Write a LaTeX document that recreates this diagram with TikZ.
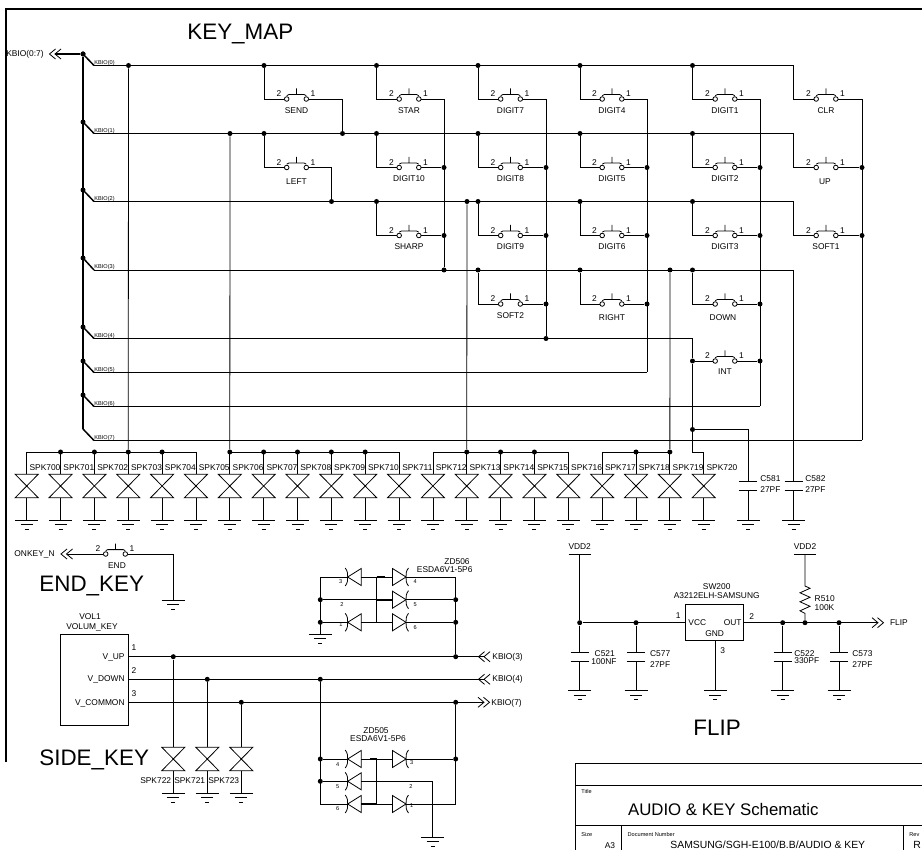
\documentclass[tikz,border=0pt]{standalone}
\usepackage{fontspec}
\setmainfont{Liberation Sans}
\usetikzlibrary{positioning}

\begin{document}
\begin{tikzpicture}
    [
        x=1pt, y=-1pt, line width=0.8pt,
        dot/.style = {circle, fill=black, inner sep=0pt, minimum size=5pt},
        lbl/.style = {inner sep=0pt, font=\fontsize{8.4}{9}\selectfont},
        lblw/.style = {lbl, anchor=west},
        lble/.style = {lbl, anchor=east},
        tiny/.style = {inner sep=0pt, font=\fontsize{5.6}{6}\selectfont},
        tinyw/.style = {tiny, anchor=west},
        big/.style = {inner sep=0pt, anchor=west, font=\fontsize{22.4}{24}\selectfont},
        bus/.style = {line width=2pt},
        pics/keyswitch/.style = {code={
            \draw[fill=white] (-9.8,0) circle (2.3) (9.8,0) circle (2.3);
            \draw (-9.8,-3.4) -- (-7.6,-4.4) -- (7.6,-4.4) -- (9.8,-3.4) (0,-4.4) -- (0,-10.5);
            \node[lbl] (-two) at (-17.5,-5) {2};
            \node[lbl] (-one) at (16.5,-5) {1};
            \coordinate (-l) at (-12.1,0);
            \coordinate (-r) at (12.1,0);
        }},
        pics/gnd/.style = {code={
            \draw (-11.5,0) -- (11.5,0) (-6,4.5) -- (6,4.5) (-2,9) -- (2,9);
        }},
        pics/bowtie/.style = {code={
            \draw (-11.5,-11.7) -- (11.5,-11.7) -- (-11.5,11.7) -- (11.5,11.7) -- cycle;
            \coordinate (-t) at (0,-11.7);
            \coordinate (-b) at (0,11.7);
        }},
        pics/capv/.style = {code={
            \draw (-9,-4.5) -- (9,-4.5) (-9,4.5) -- (9,4.5);
            \coordinate (-t) at (0,-4.5);
            \coordinate (-b) at (0,4.5);
        }},
        pics/zenl/.style = {code={
            \draw (0,0) -- (13.5,-8.5) -- (13.5,8.5) -- cycle;
            \draw (-2.5,-9) .. controls (0,-6) and (0,-3) .. (0,0) .. controls (0,3) and (0,6) .. (-2.5,9);
            \coordinate (-c) at (0,0);
            \coordinate (-a) at (13.5,0);
        }},
        pics/zenr/.style = {code={
            \draw (0,0) -- (-13.5,-8.5) -- (-13.5,8.5) -- cycle;
            \draw (2.5,-9) .. controls (0,-6) and (0,-3) .. (0,0) .. controls (0,3) and (0,6) .. (2.5,9);
            \coordinate (-c) at (0,0);
            \coordinate (-a) at (-13.5,0);
        }},
        pics/chevl/.style = {code={
            \draw (6,-5) -- (0,0) -- (6,5) (0.5,-5) -- (-5.5,0) -- (0.5,5);
            \coordinate (-o) at (0,0);
        }},
        pics/chevr/.style = {code={
            \draw (-6,-5) -- (0,0) -- (-6,5) (-0.5,-5) -- (5.5,0) -- (-0.5,5);
            \coordinate (-o) at (0,0);
        }},
    ]

    \useasboundingbox (0,0) rectangle (922,850);
    \clip (0,0) rectangle (922,850);

    \coordinate (frametl) at (5.5,9);
    \coordinate (framebl) at (5.5,762);
    \coordinate (frametr) at (922,9);
    \draw[bus] (framebl) -- (frametl) -- (frametr);

    \node[big] (keymap) at (187,34) {KEY\_MAP};
    \node[big] (endkey) at (39,586) {END\_KEY};
    \node[big] (sidekey) at (39,760) {SIDE\_KEY};
    \node[big] (fliptitle) at (693,728) {FLIP};

    \node[lble] (kbiotxt) at (44,54) {KBIO(0:7)};
    \pic (kbiochev) at (55,54) {chevl};
    \node[dot] (bustop) at (83,54) {};
    \coordinate (busend) at (83,429);
    \draw[bus] (kbiochev-o) -- (bustop) -- (busend);

    \foreach \i/\ybus/\yrow/\hasdot in {0/54/65.5/1, 1/122/133.5/1, 2/190/201.5/1, 3/258/270/1, 4/327/338.5/1, 5/361/372.5/1, 6/395/406.5/1, 7/429/440.5/0}
    {
        \coordinate (bt\i) at (83,\ybus);
        \coordinate (k\i) at (94,\yrow);
        \ifnum\hasdot=1 \node[dot] (bd\i) at (83,\ybus) {}; \fi
        \draw[line width=1.5pt] (bt\i) -- (k\i);
        \node[tinyw] (kl\i) at (94,\yrow-2.5) {KBIO(\i)};
    }

    \foreach \id/\x/\y/\lx/\ly/\txt in
    {
        send/296.5/99/296.5/111/SEND, left/296.5/167.5/296.5/182/LEFT,
        star/409/99/409/111/STAR, digitten/409/167.5/409/179/DIGIT10, sharp/409/235.5/409/247/SHARP,
        digitseven/510.5/99/510.5/111/DIGIT7, digiteight/510.5/167.5/510.5/179/DIGIT8, digitnine/510.5/235.5/510.5/247/DIGIT9, softtwo/510.5/304/510.5/316/SOFT2,
        digitfour/612/99/612/111/DIGIT4, digitfive/612/167.5/612/179/DIGIT5, digitsix/612/235.5/612/247/DIGIT6, right/612/304/612/318/RIGHT,
        digitone/725/99/725/111/DIGIT1, digittwo/725/167.5/725/179/DIGIT2, digitthree/725/235.5/725/247/DIGIT3, down/725/304/723/318/DOWN, int/725/361/725/372/INT,
        clr/826/99/826/111/CLR, up/826/167.5/825/182/UP, softone/826/235.5/826/247/SOFT1,
        endsw/115.5/554/117/566/END
    }
    {
        \pic (\id) at (\x,\y) {keyswitch};
        \node[lbl] (\id txt) at (\lx,\ly) {\txt};
    }

    \foreach \id/\x/\y in
    {
        aa/128.5/65.5, ab/264/65.5, ac/376.5/65.5, ad/478/65.5, ae/580/65.5, af/692.5/65.5,
        ba/230/133.5, bb/264/133.5, bs/342.5/133.5, bc/376.5/133.5, bd/478/133.5, be/580/133.5, bf/692.5/133.5,
        cs/331.5/201.5, cc/376.5/201.5, ca/467/201.5, cd/478/201.5, ce/580/201.5, cf/692.5/201.5,
        dh/444/270, dd/478/270, de/580/270, dg/670/270, df/692.5/270,
        hten/444/167.5, hsh/444/235.5,
        jeight/546/167.5, jnine/546/235.5, jsoft/546/304, jrow/546/338.5,
        lfive/647/167.5, lsix/647/235.5, lright/647/304,
        mtwo/760/167.5, mthree/760/235.5, mdown/760/304, mint/760/361,
        nup/862/167.5, nsoft/862/235.5,
        iint/692.5/361, icap/692.5/429.5
    }
    {
        \node[dot] (\id) at (\x,\y) {};
    }

    \coordinate (tzero) at (793.5,99);
    \coordinate (tone) at (793.5,167.5);
    \coordinate (ttwo) at (793.5,235.5);
    \coordinate (cfive) at (647,372.5);
    \coordinate (csix) at (760,406.5);
    \coordinate (cseven) at (862,440.5);
    \coordinate (cfour) at (692.5,338.5);
    \coordinate (cthree) at (793.5,270);

    \draw (k0) -| (tzero) -- (clr-l);
    \draw (k1) -| (tone) -- (up-l);
    \draw (k2) -| (ttwo) -- (softone-l);
    \draw (k3) -- (cthree);
    \draw (k4) -- (cfour) -- (iint) -- (icap);
    \draw (k5) -- (cfive);
    \draw (k6) -- (csix);
    \draw (k7) -- (cseven);

    \draw (ab) |- (send-l);
    \draw (bb) |- (left-l);
    \draw (ac) |- (star-l);
    \draw (bc) |- (digitten-l);
    \draw (cc) |- (sharp-l);
    \draw (ad) |- (digitseven-l);
    \draw (bd) |- (digiteight-l);
    \draw (cd) |- (digitnine-l);
    \draw (dd) |- (softtwo-l);
    \draw (ae) |- (digitfour-l);
    \draw (be) |- (digitfive-l);
    \draw (ce) |- (digitsix-l);
    \draw (de) |- (right-l);
    \draw (af) |- (digitone-l);
    \draw (bf) |- (digittwo-l);
    \draw (cf) |- (digitthree-l);
    \draw (df) |- (down-l);
    \draw (iint) -- (int-l);

    \draw (send-r) -| (bs);
    \draw (left-r) -| (cs);
    \draw (star-r) -| (dh);
    \draw (digitten-r) -- (hten);
    \draw (sharp-r) -- (hsh);
    \draw (digitseven-r) -| (jrow);
    \draw (digiteight-r) -- (jeight);
    \draw (digitnine-r) -- (jnine);
    \draw (softtwo-r) -- (jsoft);
    \draw (digitfour-r) -| (cfive);
    \draw (digitfive-r) -- (lfive);
    \draw (digitsix-r) -- (lsix);
    \draw (right-r) -- (lright);
    \draw (digitone-r) -| (csix);
    \draw (digittwo-r) -- (mtwo);
    \draw (digitthree-r) -- (mthree);
    \draw (down-r) -- (mdown);
    \draw (int-r) -- (mint);
    \draw (clr-r) -| (cseven);
    \draw (up-r) -- (nup);
    \draw (softone-r) -- (nsoft);

    \foreach \i in {0,...,20}
    {
        \pgfmathsetmacro\xs{26.7+33.85*\i}
        \pgfmathtruncatemacro\n{700+\i}
        \pic (spk\i) at (\xs,486) {bowtie};
        \pic (gs\i) at (\xs,520) {gnd};
        \coordinate (gp\i) at (\xs,520);
        \coordinate (top\i) at (\xs,452);
        \draw (top\i) -- (spk\i-t);
        \draw (spk\i-b) -- (gp\i);
        \node[lbl] (spktxt\i) at (\xs+18.3,468) {SPK\n};
    }
    \draw (top0) -- (top5);
    \draw (top6) -- (top11);
    \draw (top12) -- (top16);
    \draw (top17) -- (top19);
    \foreach \i in {1,2,3,4,6,7,8,9,10,13,14,15,18,19}
    {
        \node[dot] (td\i) at (top\i) {};
    }
    \coordinate (tcorner) at (692.5,452);
    \draw (aa) -- (td3);
    \draw (ba) -- (td6);
    \draw (ca) -- (td13);
    \draw (dg) -- (td19);
    \draw (icap) -- (tcorner) -- (top20);

    \pic (csoe) at (748.3,485.8) {capv};
    \pic (csot) at (793.5,485.8) {capv};
    \pic (gcsoe) at (748.3,520) {gnd};
    \pic (gcsot) at (793.5,520) {gnd};
    \coordinate (gpcsoe) at (748.3,520);
    \coordinate (gpcsot) at (793.5,520);
    \draw (icap) -| (csoe-t);
    \draw (cthree) -- (csot-t);
    \draw (csoe-b) -- (gpcsoe);
    \draw (csot-b) -- (gpcsot);
    \node[lblw] (csoetxt) at (760,479) {C581};
    \node[lblw] (csoeval) at (760,490) {27PF};
    \node[lblw] (csottxt) at (805,479) {C582};
    \node[lblw] (csotval) at (805,490) {27PF};

    \node[lble] (onkeytxt) at (55,554) {ONKEY\_N};
    \pic (onkeychev) at (66.5,554) {chevl};
    \pic (gend) at (173,600) {gnd};
    \coordinate (gpend) at (173,600);
    \draw (onkeychev-o) -- (endsw-l);
    \draw (endsw-r) -| (gpend);

    \node[draw, minimum width=67.6pt, minimum height=91pt, inner sep=0pt] (vol) at (94.5,679.5) {};
    \node[lbl] (voltxt) at (90,617) {VOL1};
    \node[lbl] (volval) at (92,627) {VOLUM\_KEY};
    \node[lble] (vup) at (125,657) {V\_UP};
    \node[lble] (vdown) at (125,679) {V\_DOWN};
    \node[lble] (vcom) at (125,703) {V\_COMMON};
    \node[lbl] (pone) at (134,648) {1};
    \node[lbl] (ptwo) at (134,671) {2};
    \node[lbl] (pthree) at (134,694) {3};

    \coordinate (vupp) at (128.3,656.7);
    \coordinate (vdownp) at (128.3,679.3);
    \coordinate (vcomp) at (128.3,702.3);
    \pic (cthreeb) at (484,656.7) {chevl};
    \pic (cfourb) at (484,679.3) {chevl};
    \pic (csevenb) at (484,702.3) {chevr};
    \node[lblw] (kthree) at (492,657) {KBIO(3)};
    \node[lblw] (kfour) at (492,679.5) {KBIO(4)};
    \node[lblw] (kseven) at (491,703) {KBIO(7)};
    \draw (vupp) -- (cthreeb-o);
    \draw (vdownp) -- (cfourb-o);
    \draw (vcomp) -- (csevenb-o);

    \foreach \id/\x/\y/\lx/\txt in {sa/173.3/656.7/155.7/SPK722, sb/207.3/679.3/189.7/SPK721, sc/241.3/702.3/223.7/SPK723}
    {
        \node[dot] (\id) at (\x,\y) {};
        \pic (\id box) at (\x,759) {bowtie};
        \pic (\id g) at (\x,793.3) {gnd};
        \coordinate (\id p) at (\x,793.3);
        \draw (\id) -- (\id box-t);
        \draw (\id box-b) -- (\id p);
        \node[lbl] (\id txt) at (\lx,781) {\txt};
    }

    \node[lbl] (zsixt) at (457,562) {ZD506};
    \node[lbl] (zsixv) at (444.7,569.5) {ESDA6V1-5P6};
    \pic (zsa) at (347.7,577) {zenl};
    \pic (zsb) at (406,577) {zenr};
    \pic (zsc) at (406,599.7) {zenr};
    \pic (zsd) at (347.7,622.3) {zenl};
    \pic (zse) at (406,622.3) {zenr};
    \coordinate (zsl) at (320.3,577);
    \coordinate (zsr) at (455.7,577);
    \coordinate (zsi) at (376.7,577);
    \coordinate (zsj) at (376.7,622.3);
    \coordinate (zsk) at (376.7,599.7);
    \coordinate (zsm) at (385,577);
    \node[dot] (zsdl) at (320.3,599.7) {};
    \node[dot] (zsel) at (320.3,622.3) {};
    \node[dot] (zsdr) at (455.7,599.7) {};
    \node[dot] (zser) at (455.7,622.3) {};
    \node[dot] (zsbot) at (455.7,656.7) {};
    \pic (gzs) at (320.3,634) {gnd};
    \coordinate (gpzs) at (320.3,634);
    \draw (zsl) -- (zsa-c);
    \draw (zsa-a) -- (zsb-a);
    \draw (zsb-c) -- (zsr);
    \draw (zsdl) -- (zsc-a);
    \draw (zsc-c) -- (zsdr);
    \draw (zsel) -- (zsd-c);
    \draw (zsd-a) -- (zse-a);
    \draw (zse-c) -- (zser);
    \draw (zsl) -- (gpzs);
    \draw (zsr) -- (zsbot);
    \draw (zsi) -- (zsj);
    \draw[line width=1.6pt] (zsi) -- (zsm) (zsk) -- (zsc-a);

    \foreach \id/\x/\y/\txt in {a/340.7/582/3, b/415.3/582/4, c/415.3/605/5, d/342/605/2, e/341/625/1, f/415.3/628/6, g/337.7/764.7/4, h/411.7/763/3, i/337.7/787/5, j/411/787/2, k/337.7/809/6, l/411.7/806/1}
    {
        \node[tiny] (zpin\id) at (\x,\y) {\txt};
    }

    \node[lbl] (zfivet) at (376,730.7) {ZD505};
    \node[lbl] (zfivev) at (378,738.5) {ESDA6V1-5P6};
    \pic (zfa) at (347.7,759) {zenl};
    \pic (zfb) at (406,759) {zenr};
    \pic (zfc) at (347.7,781.3) {zenl};
    \pic (zfd) at (347.7,804) {zenl};
    \pic (zfe) at (406,804) {zenr};
    \node[dot] (zftop) at (320.3,679.3) {};
    \node[dot] (zfl) at (320.3,759) {};
    \node[dot] (zfm) at (320.3,781.3) {};
    \coordinate (zfn) at (320.3,804);
    \node[dot] (zfrt) at (455.7,702.3) {};
    \node[dot] (zfr) at (455.7,759) {};
    \coordinate (zfs) at (455.7,804);
    \coordinate (zfi) at (376.7,759);
    \coordinate (zfj) at (376.7,804);
    \coordinate (zfk) at (370,759);
    \coordinate (zfq) at (432.7,781.3);
    \pic (gzf) at (432.7,837.3) {gnd};
    \coordinate (gpzf) at (432.7,837.3);
    \draw (zftop) -- (zfn) -- (zfd-c);
    \draw (zfrt) -- (zfs) -- (zfe-c);
    \draw (zfl) -- (zfa-c);
    \draw (zfa-a) -- (zfb-a);
    \draw (zfb-c) -- (zfr);
    \draw (zfm) -- (zfc-c);
    \draw (zfc-a) -- (zfq) -- (gpzf);
    \draw (zfd-a) -- (zfe-a);
    \draw (zfi) -- (zfj);
    \draw[line width=1.6pt] (zfk) -- (zfi) (zfd-a) -- (zfj);

    \foreach \id/\x in {vddl/579.7, vddr/805}
    {
        \coordinate (\id) at (\x,554.3);
        \coordinate (\id a) at (\x-11,554.3);
        \coordinate (\id b) at (\x+11,554.3);
        \draw (\id a) -- (\id b);
        \node[lbl] (\id txt) at (\x,546.7) {VDD2};
    }
    \foreach \id/\x/\lx/\ltxt/\lvy/\lv/\vtxt in {ca/579.7/594.3/C521/661.7/591/100NF, cb/636/649.7/C577/664.3/649.7/27PF, cc/782.7/794/C522/661/794/330PF, cd/839/852/C573/664.3/852/27PF}
    {
        \pic (cap\id) at (\x,656.8) {capv};
        \pic (gcap\id) at (\x,690.7) {gnd};
        \coordinate (gpcap\id) at (\x,690.7);
        \node[dot] (dcap\id) at (\x,622.7) {};
        \draw (dcap\id) -- (cap\id-t);
        \draw (cap\id-b) -- (gpcap\id);
        \node[lblw] (cap\id txt) at (\lx,653.7) {\ltxt};
        \node[lblw] (cap\id val) at (\lv,\lvy) {\vtxt};
    }
    \draw (vddl) -- (dcapca);

    \node[draw, minimum width=58.4pt, minimum height=35.6pt, inner sep=0pt] (hall) at (714.5,622.5) {};
    \node[lbl] (halltxt) at (716.7,587) {SW200};
    \node[lbl] (hallval) at (716.7,596) {A3212ELH-SAMSUNG};
    \node[lblw] (hallvcc) at (688,623) {VCC};
    \node[lble] (hallout) at (742,623) {OUT};
    \node[lbl] (hallgnd) at (714.7,634) {GND};
    \node[lbl] (hallp) at (678.3,616) {1};
    \node[lbl] (hallq) at (751.7,616.7) {2};
    \node[lbl] (hallr) at (722.7,651) {3};
    \coordinate (halll) at (685.3,622.7);
    \coordinate (hallo) at (743.7,622.7);
    \coordinate (hallb) at (715.3,640.3);
    \pic (ghall) at (715.3,690.7) {gnd};
    \coordinate (gphall) at (715.3,690.7);
    \pic (flipchev) at (878,622.7) {chevr};
    \node[lblw] (fliptxt) at (889.7,622.7) {FLIP};
    \node[dot] (rjoin) at (805,622.7) {};
    \coordinate (rtop) at (805,586);
    \draw (dcapca) -- (halll);
    \draw (hallo) -- (flipchev-o);
    \draw (hallb) -- (gphall);
    \draw (vddr) -- (rtop) -- ++(5,2.3) -- ++(-10,4.5) -- ++(10,4.5) -- ++(-10,4.5) -- ++(10,4.5) -- ++(-10,4.5) -- ++(5,2.6) -- (rjoin);
    \node[lblw] (rtxt) at (814.3,598.7) {R510};
    \node[lblw] (rval) at (814.3,607.7) {100K};

    \coordinate (tbl) at (575.7,763.7);
    \coordinate (tbb) at (575.7,850);
    \coordinate (tbr) at (922,763.7);
    \coordinate (tbm) at (575.7,785.7);
    \coordinate (tbmr) at (922,785.7);
    \coordinate (tbn) at (575.7,825.7);
    \coordinate (tbnr) at (922,825.7);
    \coordinate (tbv) at (621.3,825.7);
    \coordinate (tbvb) at (621.3,850);
    \coordinate (tbw) at (903.3,825.7);
    \coordinate (tbwb) at (903.3,850);
    \draw (tbb) -- (tbl) -- (tbr);
    \draw (tbm) -- (tbmr);
    \draw (tbn) -- (tbnr);
    \draw (tbv) -- (tbvb);
    \draw (tbw) -- (tbwb);
    \node[tinyw] (tbtitle) at (581,791.7) {Title};
    \node[inner sep=0pt, anchor=west, font=\fontsize{16.8}{18}\selectfont] (tbname) at (627.7,809.3) {AUDIO \& KEY Schematic};
    \node[tinyw] (tbsize) at (581,834.7) {Size};
    \node[lbl] (tbathree) at (610,845.5) {A3};
    \node[tinyw] (tbdoc) at (627.3,834.7) {Document Number};
    \node[inner sep=0pt, anchor=west, font=\fontsize{10.4}{11}\selectfont] (tbnum) at (670,844.5) {SAMSUNG/SGH-E100/B.B/AUDIO \& KEY};
    \node[tinyw] (tbrev) at (909,834.7) {Rev};
    \node[inner sep=0pt, anchor=west, font=\fontsize{10.4}{11}\selectfont] (tbrv) at (913,844.5) {R};
\end{tikzpicture}
\end{document}
